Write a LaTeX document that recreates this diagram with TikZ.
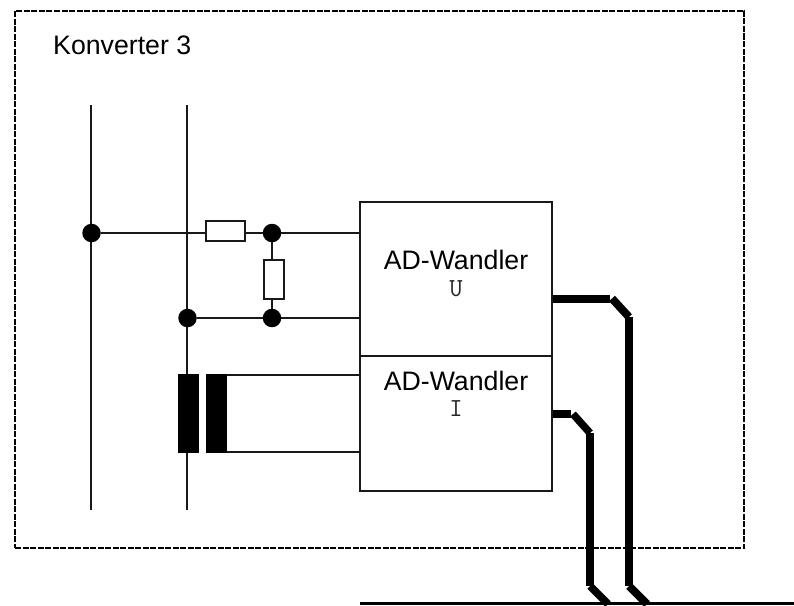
\documentclass[tikz,border=0pt]{standalone}
\usepackage{fontspec}
\setmainfont{Liberation Sans}
\tikzset{
  wire/.style={line width=1.7pt,black!90},
  bus/.style={line width=8pt,black,line cap=butt},
  dot/.style={circle,fill=black,draw=none,minimum size=18.5pt,inner sep=0pt},
  resistor/.style={rectangle,draw=black!90,line width=1.7pt,fill=white,inner sep=0pt},
  coil/.style={rectangle,fill=black,draw=none,inner sep=0pt,minimum width=21pt,minimum height=79pt},
  adbox/.style={rectangle,draw=black!90,line width=1.7pt,inner sep=0pt,minimum width=192pt},
  frame/.style={rectangle,draw=black,line width=1.1pt,dash pattern=on 6pt off 1.5pt,inner sep=0pt,minimum width=729pt,minimum height=537pt},
  lab/.style={font=\fontsize{26.7pt}{30pt}\selectfont,anchor=base,inner sep=0pt,text=black},
  sublab/.style={font=\ttfamily\fontsize{26pt}{28pt}\selectfont,inner sep=0pt,text=black!85},
}
\begin{document}
\begin{tikzpicture}[x=1pt,y=-1pt]
\useasboundingbox (0,0) rectangle (794,605);
\node[frame] (fr) at (379.5,279.5) {};
\node[lab,anchor=base west] (title) at (53,54) {Konverter 3};
% rails
\coordinate (r1t) at (91.3,105); \coordinate (r1b) at (91.3,510);
\coordinate (r2t) at (187,105); \coordinate (r2b) at (187,510);
\draw[wire] (r1t) -- (r1b);
\draw[wire] (r2t) -- (r2b);
% AD boxes
\node[adbox,minimum height=154pt] (adu) at (456,279) {};
\node[adbox,minimum height=135pt] (adi) at (456,423.5) {};
\node[lab] (tu) at (456,269) {AD-Wandler};
\node[sublab] (su) at (456,289) {U};
\node[lab] (ti) at (456,390) {AD-Wandler};
\node[sublab] (si) at (456,409) {I};
% junctions
\node[dot] (j1) at (91.5,233) {};
\node[dot] (j2) at (272,233) {};
\node[dot] (j3) at (187.5,318) {};
\node[dot] (j4) at (272,318) {};
% resistors
\node[resistor,minimum width=39pt,minimum height=20pt] (r1) at (225.5,231.3) {};
\node[resistor,minimum width=20pt,minimum height=39pt] (r2) at (274,279.5) {};
\draw[wire] (j1) -- (r1.west |- j1);
\draw[wire] (r1.east |- j2) -- (j2);
\draw[wire] (j2) -- (j2 -| adu.west);
\draw[wire] (j2) -- (j2 |- r2.north);
\draw[wire] (j2 |- r2.south) -- (j4);
\draw[wire] (j3) -- (j4);
\draw[wire] (j4) -- (j4 -| adu.west);
% transformer
\node[coil] (c1) at (188.5,413.5) {};
\node[coil] (c2) at (216.2,413.5) {};
\draw[wire] (c2.east |- 0,375) -- (adi.west |- 0,375);
\draw[wire] (c2.east |- 0,452) -- (adi.west |- 0,452);
% data lines
\coordinate (b1a) at (610,298.5); \coordinate (b1b) at (612,298.5);
\coordinate (b1c) at (629,317); \coordinate (b1d) at (629,586);
\coordinate (b1f) at (647,604);
\coordinate (b2a) at (571,414); \coordinate (b2b) at (573,414);
\coordinate (b2c) at (590,433); \coordinate (b2d) at (590,586);
\coordinate (b2f) at (608,604);
\draw[bus] (adu.east |- b1a) -- (b1a);
\draw[bus] (b1b) -- (b1c);
\draw[bus] (b1c) -- (b1d);
\draw[bus] (b1d) -- (b1f);
\draw[bus,line width=7.5pt] (adi.east |- b2a) -- (b2a);
\draw[bus,line width=7.5pt] (b2b) -- (b2c);
\draw[bus,line width=7.5pt] (b2c) -- (b2d);
\draw[bus,line width=7.5pt] (b2d) -- (b2f);
% bottom bus
\coordinate (ba) at (360,603.5); \coordinate (bb) at (794,603.5);
\draw[black,line width=3pt] (ba) -- (bb);
\end{tikzpicture}
\end{document}
